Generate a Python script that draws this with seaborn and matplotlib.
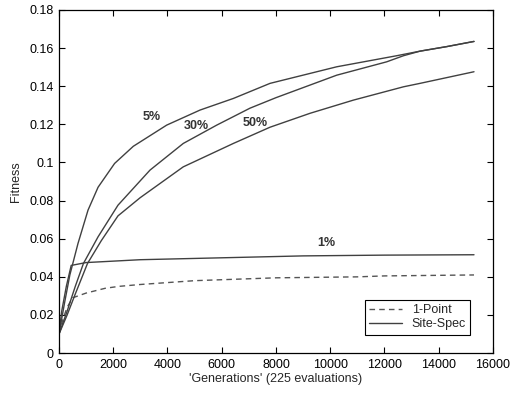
#!/usr/bin/env python3
# Fitness vs generations for 1-Point and Site-Spec crossover runs

import pandas as pd
import matplotlib
matplotlib.use("Agg")
import matplotlib.pyplot as plt
import seaborn as sns

### Data
# 1-Point crossover (dashed)
one_point_x = [0, 150, 300, 500, 1000, 1700, 2200, 3000, 5000, 8000, 11000, 12000, 15300]
one_point_y = [0.010, 0.018, 0.024, 0.029, 0.0315, 0.034, 0.035, 0.036, 0.038, 0.0395, 0.0400, 0.0405, 0.0410]

# Site-Spec runs at different rates (solid)
site_1_x = [0, 100, 270, 450, 1000, 3000, 6000, 9000, 12000, 15300]
site_1_y = [0.010, 0.022, 0.035, 0.046, 0.0475, 0.049, 0.050, 0.051, 0.0514, 0.0516]

site_5_x = [0, 200, 400, 700, 1070, 1440, 2050, 2740, 3970, 5200, 6430, 7780,
            10240, 12450, 13310, 14300, 15300]
site_5_y = [0.010, 0.026, 0.041, 0.0575, 0.075, 0.087, 0.0995, 0.1085, 0.1196, 0.1275, 0.1336, 0.1415,
            0.1502, 0.156, 0.1584, 0.1608, 0.1635]

site_30_x = [0, 300, 600, 900, 1440, 2175, 3355, 4583, 5815, 7043, 8000,
             10240, 12080, 12700, 13310, 14300, 15300]
site_30_y = [0.010, 0.022, 0.035, 0.047, 0.061, 0.0776, 0.096, 0.110, 0.1196, 0.1285, 0.134,
             0.1458, 0.1528, 0.156, 0.1584, 0.1608, 0.1635]

site_50_x = [0, 300, 600, 1050, 1560, 2175, 2990, 4580, 6430, 7780, 9255, 10850, 12700, 13310, 15300]
site_50_y = [0.010, 0.020, 0.031, 0.047, 0.059, 0.072, 0.0815, 0.0977, 0.110, 0.1185, 0.1258, 0.1327,
             0.1397, 0.1415, 0.1476]

# Labels next to the Site-Spec curves
rate_labels = ["5%", "30%", "50%", "1%"]
rate_label_x = [3420, 5080, 7230, 9870]
rate_label_y = [0.1237, 0.1191, 0.1207, 0.0576]

x_ticks = list(range(0, 16001, 2000))
y_ticks = [0, 0.02, 0.04, 0.06, 0.08, 0.1, 0.12, 0.14, 0.16, 0.18]
y_tick_labels = ["0", "0.02", "0.04", "0.06", "0.08", "0.1", "0.12", "0.14", "0.16", "0.18"]

### Plot
sns.set_style("ticks")
plt.rcParams["font.family"] = ["Liberation Sans", "DejaVu Sans"]
plt.rcParams["font.size"] = 9

fig = plt.figure(figsize=(5.13, 3.99), dpi=100)
ax = fig.add_axes([0.115, 0.115, 0.846, 0.86])

line_colour = "#404040"

one_point_df = pd.DataFrame({"x": one_point_x, "y": one_point_y})
sns.lineplot(data=one_point_df, x="x", y="y", ax=ax, color="#555555",
             linewidth=1.0, linestyle=(0, (4, 3)), label="1-Point")

site_series = [(site_1_x, site_1_y), (site_5_x, site_5_y),
               (site_30_x, site_30_y), (site_50_x, site_50_y)]
for i, (xs, ys) in enumerate(site_series):
    df = pd.DataFrame({"x": xs, "y": ys})
    sns.lineplot(data=df, x="x", y="y", ax=ax, color=line_colour, linewidth=1.0,
                 label="Site-Spec" if i == 0 else None)

for lbl, lx, ly in zip(rate_labels, rate_label_x, rate_label_y):
    ax.text(lx, ly, lbl, ha="center", va="center", fontsize=9,
            fontweight="bold", color="#333333")

ax.set_xlim(0, 16000)
ax.set_ylim(0, 0.18)
ax.set_xticks(x_ticks)
ax.set_yticks(y_ticks)
ax.set_yticklabels(y_tick_labels)
ax.tick_params(direction="in", top=True, right=True, length=4, width=0.8,
               labelsize=9, colors="black", pad=4)
for side in ax.spines.values():
    side.set_visible(True)
    side.set_color("black")
    side.set_linewidth(0.9)

ax.set_xlabel("'Generations' (225 evaluations)", fontsize=9, labelpad=2)
ax.set_ylabel("Fitness", fontsize=9, labelpad=5)

leg = ax.legend(loc="lower right", bbox_to_anchor=(0.962, 0.035), fontsize=9,
                frameon=True, fancybox=False, framealpha=1, edgecolor="black",
                handlelength=2.6, borderpad=0.35, labelspacing=0.2)
leg.get_frame().set_linewidth(0.8)

fig.savefig("out.png", dpi=100)
